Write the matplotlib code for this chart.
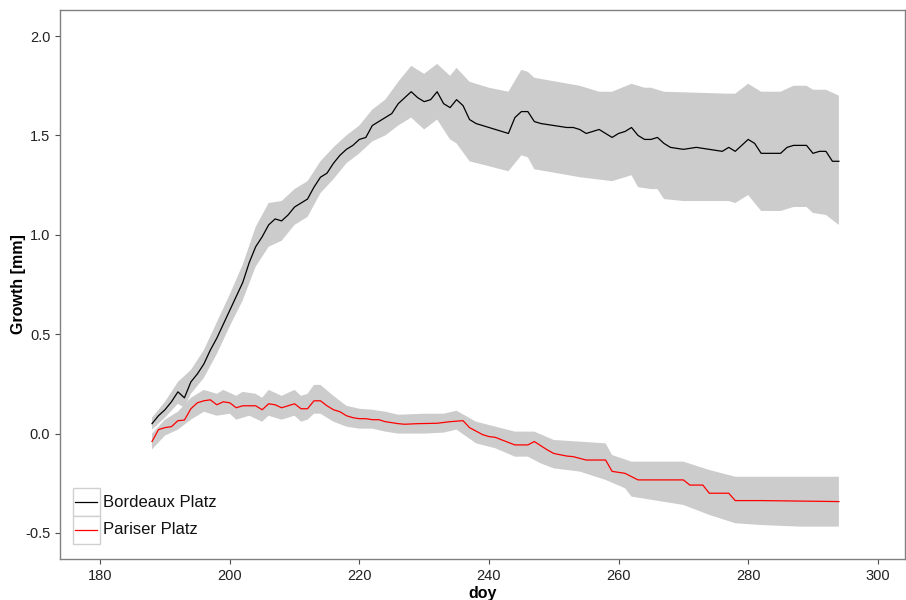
import matplotlib
matplotlib.use("Agg")
import matplotlib.pyplot as plt
from matplotlib.patches import Rectangle
import numpy as np

plt.rcParams['font.family'] = ['Liberation Sans', 'DejaVu Sans']
plt.rcParams['axes.unicode_minus'] = False

series_names = ["Bordeaux Platz", "Pariser Platz"]
series_colors = ["black", "red"]

# Bordeaux Platz - mean growth
bdx_doy = [188, 189, 190, 191, 192, 193, 194, 195, 196, 197, 198, 199, 200, 201, 202, 203,
           204, 205, 206, 207, 208, 209, 210, 211, 212, 213, 214, 215, 216, 217, 218, 219,
           220, 221, 222, 223, 224, 225, 226, 227, 228, 229, 230, 231, 232, 233, 234, 235,
           236, 237, 238, 239, 240, 241, 242, 243, 244, 245, 246, 247, 248, 250, 252, 253,
           254, 255, 256, 257, 258, 259, 260, 261, 262, 263, 264, 265, 266, 267, 268, 270,
           272, 274, 276, 277, 278, 279, 280, 281, 282, 284, 285, 286, 287, 289, 290, 291,
           292, 293, 294]
bdx_val = [0.05, 0.09, 0.12, 0.16, 0.21, 0.18, 0.26, 0.30, 0.35, 0.42, 0.48, 0.55, 0.62, 0.69,
           0.76, 0.86, 0.94, 0.99, 1.05, 1.08, 1.07, 1.10, 1.14, 1.16, 1.18, 1.24, 1.29, 1.31,
           1.36, 1.40, 1.43, 1.45, 1.48, 1.49, 1.55, 1.57, 1.59, 1.61, 1.66, 1.69, 1.72, 1.69,
           1.67, 1.68, 1.72, 1.66, 1.64, 1.68, 1.65, 1.58, 1.56, 1.55, 1.54, 1.53, 1.52, 1.51,
           1.59, 1.62, 1.62, 1.57, 1.56, 1.55, 1.54, 1.54, 1.53, 1.51, 1.52, 1.53, 1.51, 1.49,
           1.51, 1.52, 1.54, 1.50, 1.48, 1.48, 1.49, 1.46, 1.44, 1.43, 1.44, 1.43, 1.42, 1.44,
           1.42, 1.45, 1.48, 1.46, 1.41, 1.41, 1.41, 1.44, 1.45, 1.45, 1.41, 1.42, 1.42, 1.37,
           1.37]

# Bordeaux Platz - band edges
bdx_up_doy = [188, 190, 192, 194, 196, 198, 200, 202, 204, 206, 208, 210, 212, 214, 216, 218,
              220, 222, 224, 226, 228, 230, 232, 234, 235, 237, 240, 243, 245, 246, 247, 254,
              257, 259, 262, 264, 265, 267, 277, 278, 280, 282, 285, 287, 289, 290, 292, 294]
bdx_up = [0.08, 0.16, 0.26, 0.32, 0.42, 0.56, 0.70, 0.85, 1.04, 1.16, 1.17, 1.23, 1.27, 1.37,
          1.44, 1.50, 1.55, 1.63, 1.68, 1.77, 1.85, 1.81, 1.86, 1.80, 1.84, 1.77, 1.74, 1.72,
          1.83, 1.82, 1.79, 1.75, 1.72, 1.72, 1.76, 1.74, 1.74, 1.72, 1.71, 1.71, 1.76, 1.72,
          1.72, 1.75, 1.75, 1.73, 1.73, 1.70]
bdx_lo_doy = [188, 190, 192, 193, 194, 196, 198, 200, 202, 204, 206, 208, 210, 212, 214, 216,
              218, 220, 222, 224, 226, 228, 230, 232, 234, 235, 237, 243, 245, 246, 247, 254,
              259, 262, 263, 265, 266, 267, 270, 277, 278, 280, 282, 285, 287, 289, 290, 292,
              294]
bdx_lo = [0.02, 0.08, 0.15, 0.13, 0.20, 0.28, 0.40, 0.54, 0.67, 0.84, 0.94, 0.97, 1.05, 1.09,
          1.21, 1.28, 1.36, 1.41, 1.47, 1.50, 1.55, 1.59, 1.53, 1.58, 1.48, 1.46, 1.37, 1.32,
          1.40, 1.39, 1.33, 1.29, 1.27, 1.30, 1.24, 1.23, 1.23, 1.18, 1.17, 1.17, 1.16, 1.20,
          1.12, 1.12, 1.14, 1.14, 1.11, 1.10, 1.05]

# Pariser Platz - mean growth
par_doy = [188, 189, 190, 191, 192, 193, 194, 195, 196, 197, 198, 199, 200, 201, 202, 203,
           204, 205, 206, 207, 208, 209, 210, 211, 212, 213, 214, 215, 216, 217, 218, 219,
           220, 221, 222, 223, 224, 225, 226, 227, 229, 232, 234, 236, 237, 239, 240, 241,
           242, 244, 246, 247, 249, 250, 252, 253, 255, 258, 259, 261, 263, 270, 271, 273,
           274, 277, 278, 282, 294]
par_val = [-0.04, 0.02, 0.03, 0.035, 0.065, 0.068, 0.125, 0.155, 0.165, 0.17, 0.145, 0.16,
           0.155, 0.13, 0.14, 0.14, 0.14, 0.12, 0.15, 0.145, 0.13, 0.14, 0.15, 0.125, 0.125,
           0.165, 0.165, 0.14, 0.12, 0.11, 0.09, 0.08, 0.075, 0.075, 0.07, 0.07, 0.06, 0.055,
           0.05, 0.047, 0.05, 0.052, 0.06, 0.065, 0.03, -0.005, -0.015, -0.019, -0.032, -0.057,
           -0.057, -0.04, -0.082, -0.10, -0.113, -0.116, -0.133, -0.133, -0.19, -0.20, -0.233,
           -0.233, -0.259, -0.259, -0.30, -0.30, -0.337, -0.337, -0.342]

# Pariser Platz - band edges
par_up_doy = [188, 190, 192, 194, 196, 198, 199, 201, 202, 204, 205, 206, 208, 210, 211, 212,
              213, 214, 216, 218, 220, 222, 224, 226, 230, 233, 235, 238, 241, 244, 247, 250,
              258, 259, 262, 270, 274, 278, 294]
par_up = [0.0, 0.07, 0.11, 0.18, 0.22, 0.20, 0.22, 0.19, 0.21, 0.20, 0.18, 0.22, 0.19, 0.22,
          0.19, 0.20, 0.245, 0.245, 0.19, 0.14, 0.125, 0.12, 0.11, 0.095, 0.10, 0.10, 0.115,
          0.06, 0.035, 0.01, 0.01, -0.032, -0.049, -0.108, -0.141, -0.141, -0.183, -0.217,
          -0.217]
par_lo_doy = [188, 190, 192, 194, 196, 198, 200, 201, 203, 205, 206, 208, 210, 211, 212, 213,
              214, 216, 218, 220, 222, 224, 226, 230, 233, 235, 238, 241, 244, 246, 248, 250,
              254, 258, 261, 262, 270, 274, 278, 282, 288, 294]
par_lo = [-0.08, -0.01, 0.02, 0.07, 0.11, 0.09, 0.10, 0.07, 0.09, 0.06, 0.09, 0.07, 0.09, 0.06,
          0.07, 0.10, 0.10, 0.06, 0.035, 0.025, 0.025, 0.01, 0.0, 0.0, 0.005, 0.02, -0.049,
          -0.074, -0.116, -0.116, -0.15, -0.175, -0.191, -0.233, -0.275, -0.317, -0.359, -0.409,
          -0.451, -0.46, -0.468, -0.468]

x_ticks = [180, 200, 220, 240, 260, 280, 300]
y_ticks = [-0.5, 0.0, 0.5, 1.0, 1.5, 2.0]

fig = plt.figure(figsize=(9.06, 6.0), dpi=100)
ax = fig.add_axes([0.0662, 0.0683, 0.9327, 0.915])

band_color = "#cccccc"
bands = [(bdx_up_doy, bdx_up, bdx_lo_doy, bdx_lo), (par_up_doy, par_up, par_lo_doy, par_lo)]
for up_x, up_y, lo_x, lo_y in bands:
    px = np.concatenate([up_x, lo_x[::-1]])
    py = np.concatenate([up_y, lo_y[::-1]])
    ax.fill(px, py, color=band_color, linewidth=0, zorder=1)

ax.plot(bdx_doy, bdx_val, color=series_colors[0], lw=0.9, zorder=3)
ax.plot(par_doy, par_val, color=series_colors[1], lw=0.9, zorder=3)

ax.set_xlim(173.8, 304.2)
ax.set_ylim(-0.631, 2.131)
ax.set_xticks(x_ticks)
ax.set_yticks(y_ticks)
ax.set_yticklabels(["%.1f" % v for v in y_ticks])

for s in ax.spines.values():
    s.set_color("#808080")
    s.set_linewidth(1.0)
ax.tick_params(colors="#4d4d4d", labelcolor="#222222", labelsize=10.5, length=3.5, width=0.8)

ax.set_xlabel("doy", fontsize=11.5, fontweight="bold", labelpad=2)
ax.set_ylabel("Growth [mm]", fontsize=11.5, fontweight="bold", labelpad=-1)

# legend with boxed keys
key_x0, key_x1 = 0.0150, 0.0473
key_tops = [0.1288, 0.0783]
key_h = 0.0505
for i, name in enumerate(series_names):
    top = key_tops[i]
    ax.add_patch(Rectangle((key_x0, top - key_h), key_x1 - key_x0, key_h, transform=ax.transAxes,
                           facecolor="white", edgecolor="#d0d0d0", lw=1.0, zorder=4))
    yc = top - key_h / 2
    ax.plot([key_x0 + 0.003, key_x1 - 0.003], [yc, yc], transform=ax.transAxes,
            color=series_colors[i], lw=0.9, zorder=5)
    ax.text(key_x1 + 0.004, yc, name, transform=ax.transAxes, fontsize=12,
            va="center", ha="left", color="#111111", zorder=5)

fig.savefig("out.png", dpi=100)
